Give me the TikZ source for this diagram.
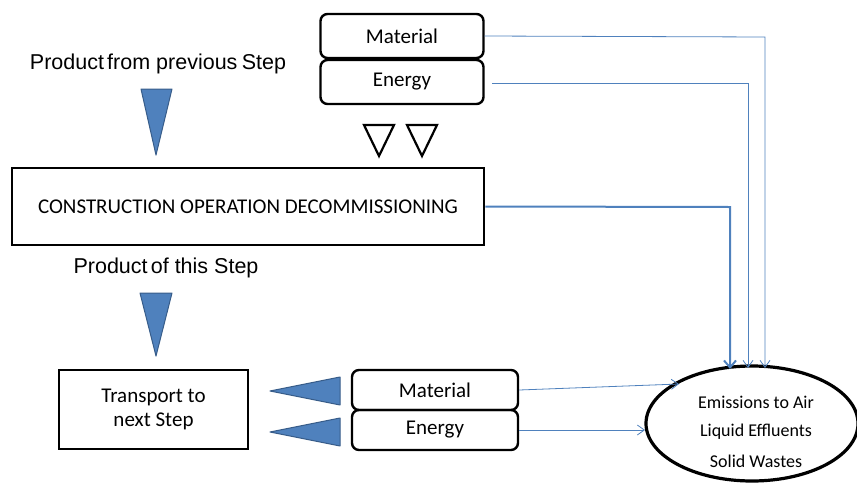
\documentclass[tikz,border=0pt]{standalone}
\usepackage{fontspec}
\setmainfont{Carlito}
\newfontfamily\arialf{Liberation Sans}
\usetikzlibrary{arrows.meta,shapes.geometric}
\definecolor{oblue}{HTML}{4F81BD}
\definecolor{oblueb}{HTML}{385D8A}
\begin{document}
\begin{tikzpicture}[x=1pt,y=-1pt,
  rbox/.style={draw, line width=2.4pt, rounded corners=7pt, minimum width=164pt, minimum height=44pt, inner sep=0pt, font=\fontsize{21}{24}\selectfont},
  sbox/.style={draw, line width=2.8pt, inner sep=0pt, font=\fontsize{21}{24}\selectfont},
  lbl/.style={font=\arialf\fontsize{21.5}{24}\selectfont, inner sep=0pt},
  elltext/.style={font=\fontsize{18}{21}\selectfont, inner sep=0pt},
  bluetri/.style={fill=oblue, draw=oblueb, line width=1pt, line join=round},
  hollowtri/.style={draw, line width=2.2pt, line join=miter},
  flow/.style={draw=oblue, line width=0.8pt, -{Straight Barb[length=7pt,width=10pt]}},
  flowthick/.style={draw=oblue, line width=2pt, -{Straight Barb[length=7pt,width=12pt]}}
]
\useasboundingbox (0,0) rectangle (857,485);

% top input boxes
\node[rbox, minimum width=163pt] (mat1) at (402,36) {Material};
\node[rbox, minimum width=163pt] (en1) at (402,82) {Energy};

% hollow triangles
\draw[hollowtri] (364,125) -- (394,125) -- (379,156) -- cycle;
\draw[hollowtri] (407,125) -- (437,125) -- (422,156) -- cycle;

% labels
\node[lbl] (prev) at (158,64) {Product\hspace{0.15em}from previous\hspace{0.2em}Step};
\node[lbl] (this) at (166,268) {Product\hspace{0.15em}of this Step};

% blue triangles
\draw[bluetri] (141,89) -- (172,89) -- (156,155) -- cycle;
\draw[bluetri] (140,293) -- (172,293) -- (156,356) -- cycle;

% main box
\node[sbox, minimum width=472pt, minimum height=77pt] (main) at (248,206.5) {CONSTRUCTION OPERATION DECOMMISSIONING};

% transport box
\node[sbox, minimum width=189pt, minimum height=79pt, align=center] (trans) at (153.5,409.5) {Transport to\\next Step};

% left blue triangles
\draw[bluetri] (340,377) -- (340,405) -- (270,391) -- cycle;
\draw[bluetri] (340,418) -- (340,446) -- (270,432) -- cycle;

% bottom input boxes
\node[rbox, minimum width=166pt, minimum height=40pt] (mat2) at (435,390) {Material};
\node[rbox, minimum width=166pt, minimum height=40pt] (en2) at (435,430) {Energy};

% ellipse
\node[draw, ellipse, line width=3.2pt, minimum width=212pt, minimum height=115pt, inner sep=0pt] (out) at (752,423.5) {};
\node[elltext] (t1) at (756,402) {Emissions to Air};
\node[elltext] (t2) at (756,432) {Liquid Effluents};
\node[elltext] (t3) at (756,461) {Solid Wastes};

% connectors
\coordinate (c1) at (765,37);
\coordinate (e1) at (765,368);
\coordinate (c2) at (748,83);
\coordinate (e2) at (748,368);
\coordinate (c3) at (730,207);
\coordinate (e3) at (730,369);
\coordinate (s2) at (492,83);
\coordinate (e4) at (679,384);
\coordinate (e5) at (645,430);

\draw[flow] (mat1.east) -- (c1) -- (e1);
\draw[flow] (s2) -- (c2) -- (e2);
\draw[flowthick] (main.east) -- (c3) -- (e3);
\draw[flow] (mat2.east) -- (e4);
\draw[flow] (en2.east) -- (e5);
\end{tikzpicture}
\end{document}
